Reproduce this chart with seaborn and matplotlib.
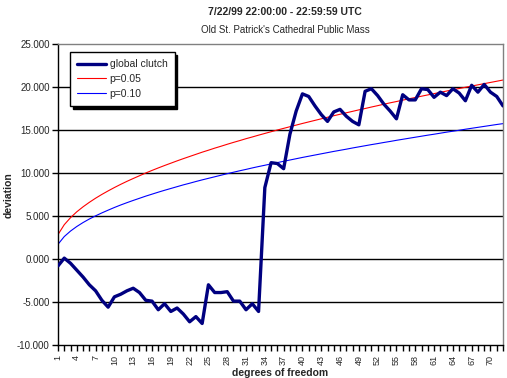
import matplotlib
import matplotlib.pyplot as plt
import pandas as pd
import seaborn as sns
from matplotlib.ticker import FixedLocator, FuncFormatter, MultipleLocator


matplotlib.use('Agg')

# degrees of freedom 1..72
dof = list(range(1, 73))

global_clutch = [
    -0.8, 0.1, -0.5, -1.3, -2.1, -3.0, -3.7, -4.8, -5.6, -4.4,
    -4.1, -3.7, -3.4, -3.9, -4.8, -4.9, -5.9, -5.2, -6.1, -5.7,
    -6.4, -7.3, -6.7, -7.5, -3.0, -3.9, -3.9, -3.8, -4.9, -4.9,
    -5.9, -5.2, -6.1, 8.3, 11.2, 11.1, 10.5, 14.5, 17.2, 19.2,
    18.9, 17.8, 16.8, 16.0, 17.1, 17.4, 16.6, 16.0, 15.6, 19.5,
    19.8, 19.0, 18.0, 17.2, 16.3, 19.1, 18.5, 18.5, 19.8, 19.7,
    18.8, 19.4, 19.0, 19.8, 19.3, 18.4, 20.2, 19.4, 20.3, 19.4,
    18.9, 17.8,
]

p05 = [
    2.84, 3.99, 4.81, 5.49, 6.07, 6.59, 7.07, 7.51, 7.92, 8.31,
    8.68, 9.03, 9.36, 9.68, 10.00, 10.30, 10.59, 10.87, 11.14, 11.41,
    11.67, 11.92, 12.17, 12.42, 12.65, 12.89, 13.11, 13.34, 13.56, 13.77,
    13.99, 14.19, 14.40, 14.60, 14.80, 15.00, 15.19, 15.38, 15.57, 15.76,
    15.94, 16.12, 16.30, 16.48, 16.66, 16.83, 17.00, 17.17, 17.34, 17.50,
    17.67, 17.83, 18.00, 18.16, 18.31, 18.47, 18.63, 18.78, 18.93, 19.08,
    19.23, 19.38, 19.53, 19.68, 19.82, 19.97, 20.11, 20.25, 20.39, 20.53,
    20.67, 20.81,
]

p10 = [
    1.71, 2.61, 3.25, 3.78, 4.24, 4.65, 5.02, 5.36, 5.68, 5.99,
    6.28, 6.55, 6.81, 7.06, 7.31, 7.54, 7.77, 7.99, 8.20, 8.41,
    8.62, 8.81, 9.01, 9.20, 9.38, 9.56, 9.74, 9.92, 10.09, 10.26,
    10.42, 10.59, 10.75, 10.90, 11.06, 11.21, 11.36, 11.51, 11.66, 11.81,
    11.95, 12.09, 12.23, 12.37, 12.51, 12.64, 12.77, 12.91, 13.04, 13.17,
    13.30, 13.42, 13.55, 13.67, 13.80, 13.92, 14.04, 14.16, 14.28, 14.40,
    14.51, 14.63, 14.75, 14.86, 14.97, 15.09, 15.20, 15.31, 15.42, 15.53,
    15.64, 15.74,
]

x_tick_labels = list(range(1, 73, 3))
y_ticks = [-10, -5, 0, 5, 10, 15, 20, 25]

df = pd.DataFrame({'dof': dof, 'global clutch': global_clutch,
                   'p=0.05': p05, 'p=0.10': p10})

sns.set_style('white')
plt.rcParams['font.family'] = ['Liberation Sans', 'DejaVu Sans']

fig = plt.figure(figsize=(5.07, 3.78), dpi=100)
ax = fig.add_axes([58 / 507, 1 - 345 / 378, 445 / 507, 301 / 378])

# horizontal grid lines at the major ticks
for v in y_ticks[1:-1]:
    ax.axhline(v, color='black', lw=1.0, zorder=0)

sns.lineplot(data=df, x='dof', y='global clutch', ax=ax, color='#000080',
             lw=2.4, label='global clutch', zorder=3)
sns.lineplot(data=df, x='dof', y='p=0.05', ax=ax, color='#ff0000',
             lw=0.8, label='p=0.05', zorder=2)
sns.lineplot(data=df, x='dof', y='p=0.10', ax=ax, color='#0000ff',
             lw=0.8, label='p=0.10', zorder=2)

ax.set_xlim(1, 72)
ax.set_ylim(-10, 25)

ax.set_yticks(y_ticks)
ax.yaxis.set_major_formatter(FuncFormatter(lambda v, p: f'{v:.3f}'))
ax.xaxis.set_major_locator(FixedLocator(x_tick_labels))
ax.xaxis.set_minor_locator(MultipleLocator(1))
ax.set_xticklabels([str(v) for v in x_tick_labels], rotation=90)

ax.tick_params(axis='y', which='major', direction='out', length=4,
               width=1, color='black', labelsize=7, pad=2, left=True)
ax.tick_params(axis='x', which='both', direction='out', length=4,
               width=1, color='black', labelsize=6.5, pad=3, bottom=True)

for side in ['left', 'bottom']:
    ax.spines[side].set_color('black')
    ax.spines[side].set_linewidth(1.0)
for side in ['top', 'right']:
    ax.spines[side].set_color('#808080')
    ax.spines[side].set_linewidth(1.0)

ax.set_xlabel('degrees of freedom', fontsize=7.5, fontweight='bold')
ax.set_ylabel('deviation', fontsize=7.5, fontweight='bold')
ax.xaxis.set_label_coords((280 - 58) / 445, (345 - 373) / 301)
ax.yaxis.set_label_coords((9 - 58) / 445, (345 - 195) / 301)
ax.xaxis.label.set_va('center')
ax.yaxis.label.set_va('center')

leg = ax.legend(loc='upper left', bbox_to_anchor=(0.027, 0.973),
                borderaxespad=0, fontsize=7.5, frameon=True, fancybox=False,
                shadow={'color': 'black', 'alpha': 1.0}, edgecolor='black',
                framealpha=1, handlelength=2.8, handletextpad=0.3,
                borderpad=0.7, labelspacing=0.45)
leg.get_frame().set_linewidth(1.0)

fig.text(285 / 507, 1 - 12 / 378, '7/22/99 22:00:00 - 22:59:59 UTC',
         ha='center', va='center', fontsize=7.5, fontweight='bold')
fig.text(285 / 507, 1 - 30 / 378, "Old St. Patrick's Cathedral Public Mass",
         ha='center', va='center', fontsize=7)

plt.savefig('out.png', dpi=100)
plt.close()
